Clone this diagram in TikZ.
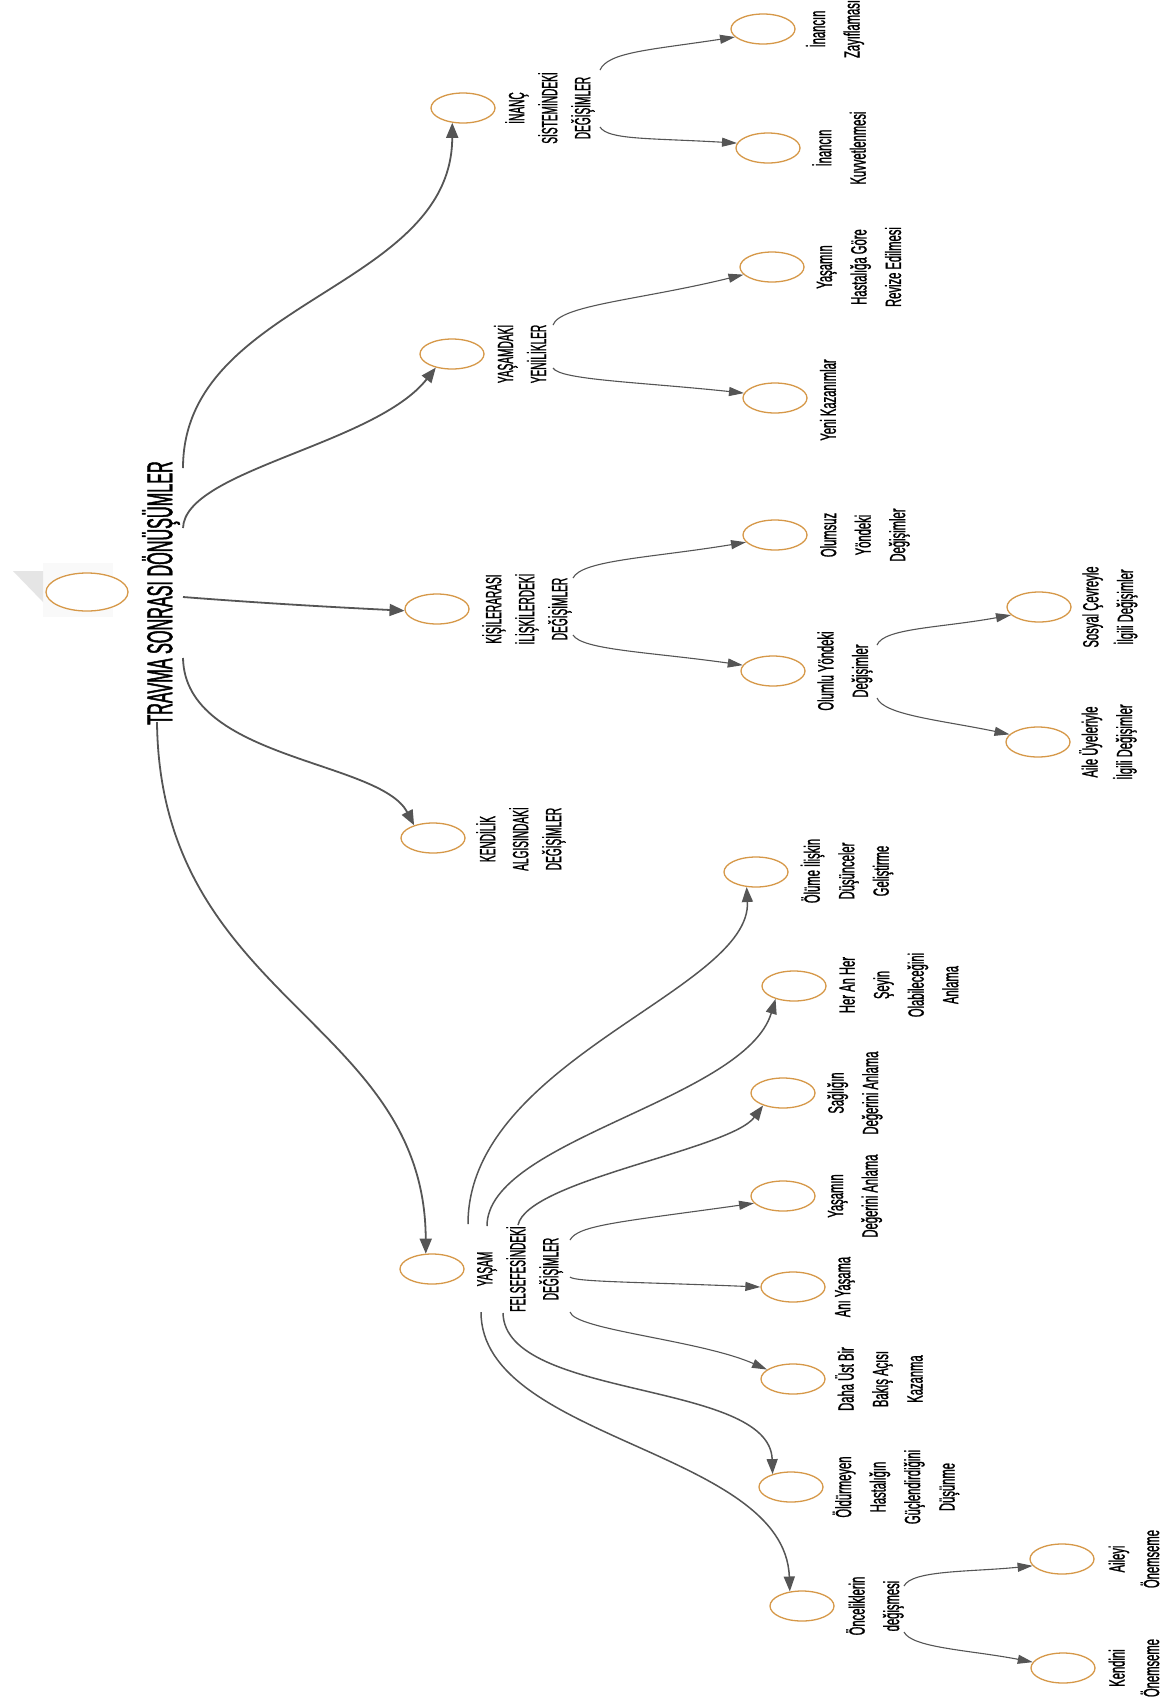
\documentclass[tikz,border=0pt]{standalone}
\usepackage{fontspec}
\setmainfont{Liberation Sans}
\newfontfamily\capf[FakeStretch=0.46,FakeBold=1]{Liberation Sans}
\newfontfamily\lowf[FakeStretch=0.51,FakeBold=1]{Liberation Sans}
\newfontfamily\ttlf[FakeStretch=0.45,FakeBold=1.2]{Liberation Sans}
\usetikzlibrary{shapes.geometric,arrows.meta}
\definecolor{ellcol}{RGB}{214,152,72}
\definecolor{lncol}{RGB}{85,85,85}
\tikzset{
 bub/.style={draw=ellcol, line width=1.3pt, ellipse, minimum width=64pt, minimum height=30pt, inner sep=0pt, fill=white},
 caplbl/.style={rotate=90, align=center, font=\capf\fontsize{22}{33}\selectfont, inner sep=0pt},
 lowlbl/.style={rotate=90, align=center, font=\lowf\fontsize{22}{34.5}\selectfont, inner sep=0pt},
 mainln/.style={draw=lncol, line width=1.8pt, -{Triangle[length=15pt,width=12pt]}},
 midln/.style={draw=lncol, line width=1.5pt, -{Triangle[length=15pt,width=11pt]}},
 subln/.style={draw=lncol, line width=1.1pt, -{Triangle[length=15pt,width=9pt]}},
}
\begin{document}
\begin{tikzpicture}[x=1pt,y=-1pt]
\useasboundingbox (0,0) rectangle (1175,1706);
\fill[white] (0,0) rectangle (1175,1706);
% root
\fill[gray!5] (43,563) rectangle (113,617);
\fill[gray!20] (13,571) -- (43,571) -- (43,602) -- cycle;
\node[bub, minimum width=82pt, minimum height=38pt] (root) at (87,592) {};
\node[font=\ttlf\fontsize{36}{36}\selectfont, rotate=90, inner sep=0pt] (title) at (161,593) {TRAVMA SONRASI DÖNÜŞÜMLER};

% level 1
\node[bub] (inanc) at (463,108) {};
\node[caplbl] (inancL) at (550,108) {İNANÇ\\SİSTEMİNDEKİ\\DEĞİŞİMLER};
\node[bub] (yenilik) at (452,354) {};
\node[caplbl] (yenilikL) at (520,354) {YAŞAMDAKİ\\YENİLİKLER};
\node[bub] (kisiler) at (437,609) {};
\node[caplbl] (kisilerL) at (527,609) {KİŞİLERARASI\\İLİŞKİLERDEKİ\\DEĞİŞİMLER};
\node[bub] (kendilik) at (433,838) {};
\node[caplbl] (kendilikL) at (521,839) {KENDİLİK\\ALGISINDAKİ\\DEĞİŞİMLER};
\node[bub] (yasam) at (432,1269) {};
\node[caplbl] (yasamL) at (520,1269) {YAŞAM\\FELSEFESİNDEKİ\\DEĞİŞİMLER};

% level 2
\node[bub] (zay) at (763,29) {};
\node[lowlbl] (zayL) at (835,29) {İnancın\\Zayıflaması};
\node[bub] (kuv) at (768,148) {};
\node[lowlbl] (kuvL) at (839,148) {İnancın\\Kuvvetlenmesi};
\node[bub] (hast) at (772,267) {};
\node[lowlbl] (hastL) at (859,267) {Yaşamın\\Hastalığa Göre\\Revize Edilmesi};
\node[bub] (yeni) at (775,398) {};
\node[lowlbl] (yeniL) at (828,400) {Yeni Kazanımlar};
\node[bub] (olumsuz) at (775,535) {};
\node[lowlbl] (olumsuzL) at (865,535) {Olumsuz\\Yöndeki\\Değişimler};
\node[bub] (olumlu) at (773,671) {};
\node[lowlbl] (olumluL) at (845,671) {Olumlu Yöndeki\\Değişimler};
\node[bub] (sosyal) at (1039,607) {};
\node[lowlbl] (sosyalL) at (1110,607) {Sosyal Çevreyle\\İlgili Değişimler};
\node[bub] (aile) at (1038,742) {};
\node[lowlbl] (aileL) at (1108,742) {Aile Üyeleriyle\\İlgili Değişimler};
\node[bub] (olume) at (756,872) {};
\node[lowlbl] (olumeL) at (847,871) {Ölüme İlişkin\\Düşünceler\\Geliştirme};
\node[bub] (heran) at (794,986) {};
\node[lowlbl] (heranL) at (899,985) {Her An Her\\Şeyin\\Olabileceğini\\Anlama};
\node[bub] (saglik) at (783,1093) {};
\node[lowlbl] (saglikL) at (855,1093) {Sağlığın\\Değerini Anlama};
\node[bub] (yasdeg) at (783,1196) {};
\node[lowlbl] (yasdegL) at (855,1196) {Yaşamın\\Değerini Anlama};
\node[bub] (ani) at (793,1287) {};
\node[lowlbl] (aniL) at (845,1287) {Anı Yaşama};
\node[bub] (dahaust) at (793,1379) {};
\node[lowlbl] (dahaustL) at (879,1379) {Daha Üst Bir\\Bakış Açısı\\Kazanma};
\node[bub] (oldur) at (791,1487) {};
\node[lowlbl] (oldurL) at (896,1487) {Öldürmeyen\\Hastalığın\\Güçlendirdiğini\\Düşünme};
\node[bub] (oncelik) at (802,1606) {};
\node[lowlbl] (oncelikL) at (875,1606) {Önceliklerin\\değişmesi};
\node[bub] (aileyi) at (1062,1559) {};
\node[lowlbl] (aileyiL) at (1134,1559) {Aileyi\\Önemseme};
\node[bub] (kendini) at (1063,1668) {};
\node[lowlbl] (kendiniL) at (1134,1668) {Kendini\\Önemseme};

% start points
\coordinate (t1) at (183,468);
\coordinate (t2) at (183,528);
\coordinate (t3) at (183,597);
\coordinate (t4) at (183,658);
\coordinate (t5) at (157,722);
\coordinate (i1) at (600,70);
\coordinate (i2) at (600,127);
\coordinate (y1) at (553,325);
\coordinate (y2) at (553,368);
\coordinate (k1) at (573,578);
\coordinate (k2) at (573,635);
\coordinate (o1) at (877,645);
\coordinate (o2) at (877,698);
\coordinate (p1) at (904,1586);
\coordinate (p2) at (904,1632);
\coordinate (fa) at (468,1224);
\coordinate (fb) at (487,1226);
\coordinate (fc) at (518,1225);
\coordinate (fd) at (570,1240);
\coordinate (fe) at (570,1277);
\coordinate (ff) at (570,1312);
\coordinate (fg) at (503,1313);
\coordinate (fh) at (481,1312);

% main connectors
\draw[mainln] (t1) .. controls (183,300) and (452,290) .. (inanc.234);
\draw[mainln] (t2) .. controls (185,470) and (375,445) .. (yenilik.220);
\draw[mainln] (t3) .. controls (260,603) and (330,607) .. (kisiler.183);
\draw[mainln] (t4) .. controls (185,760) and (380,760) .. (kendilik.146);
\draw[mainln] (t5) .. controls (160,1000) and (425,1020) .. (yasam.112);

% sub connectors
\draw[subln] (i1) .. controls (608,52) and (650,50) .. (zay.196);
\draw[subln] (i2) .. controls (608,140) and (650,138) .. (kuv.171);
\draw[subln] (y1) .. controls (560,305) and (640,300) .. (hast.195);
\draw[subln] (y2) .. controls (560,380) and (640,382) .. (yeni.171);
\draw[subln] (k1) .. controls (582,560) and (650,558) .. (olumsuz.194);
\draw[subln] (k2) .. controls (582,650) and (650,652) .. (olumlu.169);
\draw[subln] (o1) .. controls (884,628) and (940,628) .. (sosyal.196);
\draw[subln] (o2) .. controls (884,715) and (940,720) .. (aile.165);
\draw[subln] (p1) .. controls (912,1570) and (970,1572) .. (aileyi.193);
\draw[subln] (p2) .. controls (912,1648) and (970,1650) .. (kendini.169);

\draw[midln] (fa) .. controls (468,1060) and (752,990) .. (olume.238);
\draw[midln] (fb) .. controls (487,1140) and (745,1100) .. (heran.215);
\draw[midln] (fc) .. controls (528,1180) and (730,1150) .. (saglik.212);
\draw[subln] (fd) .. controls (578,1225) and (620,1222) .. (yasdeg.194);
\draw[subln] (fe) .. controls (575,1282) and (640,1282) .. (ani.west);
\draw[subln] (ff) .. controls (575,1330) and (700,1340) .. (dahaust.160);
\draw[midln] (fg) .. controls (505,1400) and (770,1380) .. (oldur.145);
\draw[midln] (fh) .. controls (481,1440) and (785,1450) .. (oncelik.130);
\end{tikzpicture}
\end{document}
